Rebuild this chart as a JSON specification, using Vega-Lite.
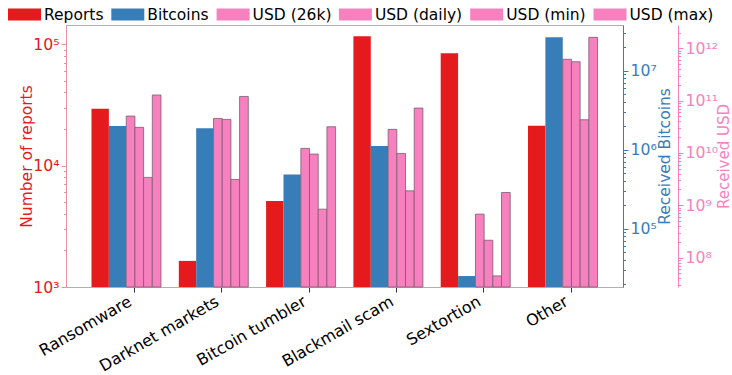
{
  "$schema": "https://vega.github.io/schema/vega-lite/v6.json",
  "width": 557,
  "height": 262,
  "autosize": {"type": "none"},
  "padding": {"left": 66, "top": 25, "right": 109, "bottom": 88},
  "config": {
    "font": "DejaVu Sans",
    "view": {"stroke": "#b0b0b0", "strokeWidth": 1},
    "axis": {"grid": false, "labelFont": "DejaVu Sans", "titleFont": "DejaVu Sans", "titleFontWeight": "normal", "labelFontSize": 15.7, "titleFontSize": 15.5, "labelOverlap": false, "labelFlush": false, "labelBound": false}
  },
  "data": {
    "values": [
      {"cat": "Ransomware", "series": "Reports", "value": 29400},
      {"cat": "Darknet markets", "series": "Reports", "value": 1640},
      {"cat": "Bitcoin tumbler", "series": "Reports", "value": 5100},
      {"cat": "Blackmail scam", "series": "Reports", "value": 116000},
      {"cat": "Sextortion", "series": "Reports", "value": 84000},
      {"cat": "Other", "series": "Reports", "value": 21300},
      {"cat": "Ransomware", "series": "Bitcoins", "value": 2000000},
      {"cat": "Darknet markets", "series": "Bitcoins", "value": 1860000},
      {"cat": "Bitcoin tumbler", "series": "Bitcoins", "value": 484000},
      {"cat": "Blackmail scam", "series": "Bitcoins", "value": 1110000},
      {"cat": "Sextortion", "series": "Bitcoins", "value": 25000},
      {"cat": "Other", "series": "Bitcoins", "value": 26500000},
      {"cat": "Ransomware", "series": "USD (26k)", "value": 50600000000},
      {"cat": "Darknet markets", "series": "USD (26k)", "value": 45700000000},
      {"cat": "Bitcoin tumbler", "series": "USD (26k)", "value": 12200000000},
      {"cat": "Blackmail scam", "series": "USD (26k)", "value": 28200000000},
      {"cat": "Sextortion", "series": "USD (26k)", "value": 675000000},
      {"cat": "Other", "series": "USD (26k)", "value": 617000000000},
      {"cat": "Ransomware", "series": "USD (daily)", "value": 30800000000},
      {"cat": "Darknet markets", "series": "USD (daily)", "value": 43700000000},
      {"cat": "Bitcoin tumbler", "series": "USD (daily)", "value": 9500000000},
      {"cat": "Blackmail scam", "series": "USD (daily)", "value": 9770000000},
      {"cat": "Sextortion", "series": "USD (daily)", "value": 214000000},
      {"cat": "Other", "series": "USD (daily)", "value": 554000000000},
      {"cat": "Ransomware", "series": "USD (min)", "value": 3400000000},
      {"cat": "Darknet markets", "series": "USD (min)", "value": 3110000000},
      {"cat": "Bitcoin tumbler", "series": "USD (min)", "value": 840000000},
      {"cat": "Blackmail scam", "series": "USD (min)", "value": 1880000000},
      {"cat": "Sextortion", "series": "USD (min)", "value": 44500000},
      {"cat": "Other", "series": "USD (min)", "value": 43000000000},
      {"cat": "Ransomware", "series": "USD (max)", "value": 128000000000},
      {"cat": "Darknet markets", "series": "USD (max)", "value": 120000000000},
      {"cat": "Bitcoin tumbler", "series": "USD (max)", "value": 31600000000},
      {"cat": "Blackmail scam", "series": "USD (max)", "value": 72000000000},
      {"cat": "Sextortion", "series": "USD (max)", "value": 1750000000},
      {"cat": "Other", "series": "USD (max)", "value": 1620000000000}
    ]
  },
  "encoding": {
    "x": {
      "field": "cat", "type": "nominal", "title": null,
      "sort": ["Ransomware", "Darknet markets", "Bitcoin tumbler", "Blackmail scam", "Sextortion", "Other"],
      "scale": {"paddingInner": 0.204, "paddingOuter": 0.292},
      "axis": {"bandPosition": 0.62, "labelAngle": -30, "labelAlign": "right", "labelBaseline": "top", "labelColor": "#000000", "labelFontSize": 16, "labelPadding": 1, "tickColor": "#333333", "tickSize": 5, "domainColor": "#b0b0b0", "domainWidth": 1}
    },
    "color": {
      "field": "series", "type": "nominal",
      "scale": {"domain": ["Reports", "Bitcoins", "USD (26k)", "USD (daily)", "USD (min)", "USD (max)"], "range": ["#e41a1c", "#377eb8", "#f781bf", "#f781bf", "#f781bf", "#f781bf"]},
      "legend": {"title": null, "orient": "none", "direction": "horizontal", "legendX": -58, "legendY": -27, "symbolType": "M-1,-0.364L1,-0.364L1,0.364L-1,0.364Z", "symbolSize": 1089, "symbolStrokeWidth": 0, "symbolOpacity": 1, "labelFontSize": 15.5, "labelColor": "#000000", "labelOffset": 3, "columnPadding": 7.3, "labelFont": "DejaVu Sans"}
    }
  },
  "layer": [
    {
      "transform": [{"filter": "datum.series == 'Reports'"}],
      "mark": {"type": "bar"},
      "encoding": {
        "xOffset": {"field": "series", "type": "nominal", "scale": {"domain": ["Reports", "Bitcoins", "_a", "_b"], "paddingInner": 0, "paddingOuter": 0}},
        "y": {
          "field": "value", "type": "quantitative",
          "scale": {"type": "log", "domain": [1000, 143600], "nice": false},
          "axis": {"orient": "left", "title": "Number of reports", "titleColor": "#e41a1c", "titlePadding": -2, "labelColor": "#e41a1c", "domainColor": "#e3959b", "tickColor": "#e3959b",
            "values": [1000, 2000, 3000, 4000, 5000, 6000, 7000, 8000, 9000, 10000, 20000, 30000, 40000, 50000, 60000, 70000, 80000, 90000, 100000],
            "labelExpr": "datum.value == 1000 ? '10³' : datum.value == 10000 ? '10⁴' : datum.value == 100000 ? '10⁵' : ''",
            "tickSize": {"condition": {"test": "indexof([1000, 10000, 100000], datum.value) >= 0", "value": 5}, "value": 2.5}
          }
        },
        "y2": {"datum": 1000}
      }
    },
    {
      "transform": [{"filter": "datum.series == 'Bitcoins'"}],
      "mark": {"type": "bar"},
      "encoding": {
        "xOffset": {"field": "series", "type": "nominal", "scale": {"domain": ["Reports", "Bitcoins", "_a", "_b"], "paddingInner": 0, "paddingOuter": 0}},
        "y": {
          "field": "value", "type": "quantitative",
          "scale": {"type": "log", "domain": [18150, 38000000], "nice": false},
          "axis": {"orient": "right", "title": "Received Bitcoins", "titleAngle": 270, "titleBaseline": "top", "titleColor": "#377eb8", "titlePadding": 1, "labelColor": "#377eb8", "domainColor": "#377eb8", "tickColor": "#377eb8",
            "values": [20000, 30000, 40000, 50000, 60000, 70000, 80000, 90000, 100000, 200000, 300000, 400000, 500000, 600000, 700000, 800000, 900000, 1000000, 2000000, 3000000, 4000000, 5000000, 6000000, 7000000, 8000000, 9000000, 10000000, 20000000, 30000000],
            "labelExpr": "datum.value == 100000 ? '10⁵' : datum.value == 1000000 ? '10⁶' : datum.value == 10000000 ? '10⁷' : ''",
            "tickSize": {"condition": {"test": "indexof([100000, 1000000, 10000000], datum.value) >= 0", "value": 5}, "value": 2.5}
          }
        },
        "y2": {"datum": 18150}
      }
    },
    {
      "transform": [{"filter": "indexof(['USD (26k)', 'USD (daily)', 'USD (min)', 'USD (max)'], datum.series) >= 0"}],
      "mark": {"type": "bar", "stroke": "#7d5a70", "strokeWidth": 0.8},
      "encoding": {
        "xOffset": {"field": "series", "type": "nominal", "scale": {"domain": ["_1", "_2", "_3", "_4", "USD (26k)", "USD (daily)", "USD (min)", "USD (max)"], "paddingInner": 0, "paddingOuter": 0}},
        "y": {
          "field": "value", "type": "quantitative",
          "scale": {"type": "log", "domain": [27300000, 2790000000000], "nice": false},
          "axis": {"orient": "right", "offset": 55, "title": "Received USD", "titleAngle": 270, "titleBaseline": "top", "titleColor": "#f781bf", "titlePadding": -1.5, "titleFontSize": 15, "labelColor": "#f781bf", "domainColor": "#f781bf", "tickColor": "#f781bf",
            "values": [30000000, 40000000, 50000000, 60000000, 70000000, 80000000, 90000000, 100000000, 200000000, 300000000, 400000000, 500000000, 600000000, 700000000, 800000000, 900000000, 1000000000, 2000000000, 3000000000, 4000000000, 5000000000, 6000000000, 7000000000, 8000000000, 9000000000, 10000000000, 20000000000, 30000000000, 40000000000, 50000000000, 60000000000, 70000000000, 80000000000, 90000000000, 100000000000, 200000000000, 300000000000, 400000000000, 500000000000, 600000000000, 700000000000, 800000000000, 900000000000, 1000000000000, 2000000000000],
            "labelExpr": "datum.value == 100000000 ? '10⁸' : datum.value == 1000000000 ? '10⁹' : datum.value == 10000000000 ? '10¹⁰' : datum.value == 100000000000 ? '10¹¹' : datum.value == 1000000000000 ? '10¹²' : ''",
            "tickSize": {"condition": {"test": "indexof([100000000, 1000000000, 10000000000, 100000000000, 1000000000000], datum.value) >= 0", "value": 5}, "value": 2.5}
          }
        },
        "y2": {"datum": 27300000}
      }
    }
  ],
  "resolve": {"scale": {"y": "independent", "xOffset": "independent"}}
}
